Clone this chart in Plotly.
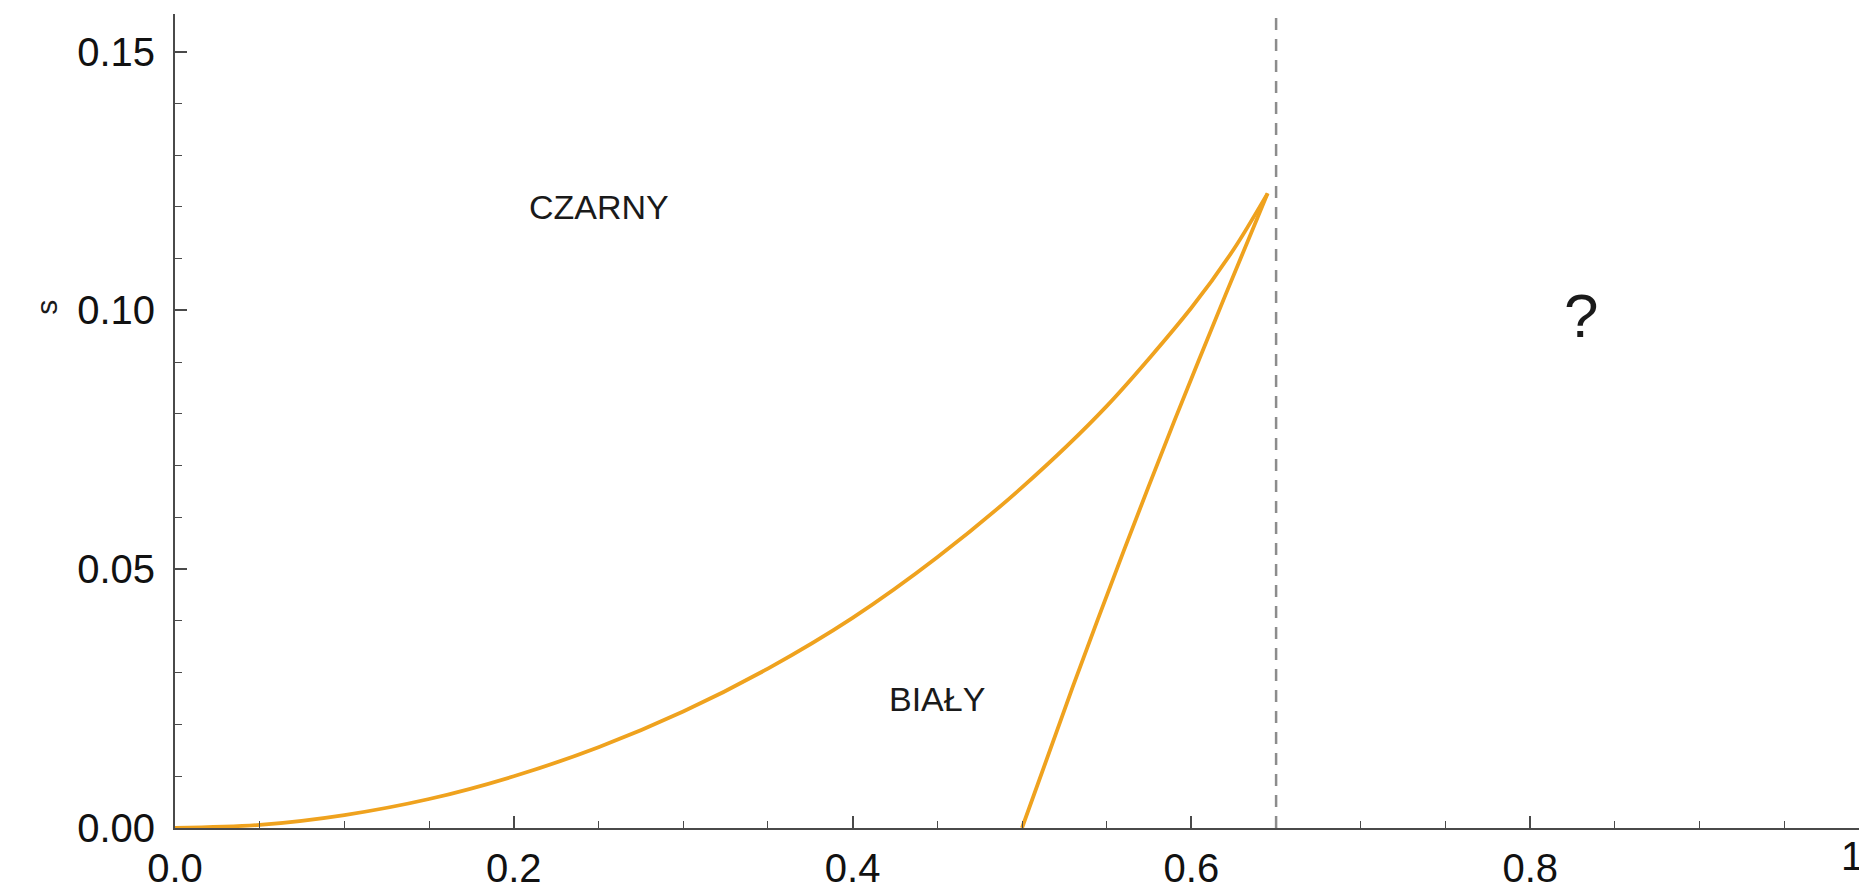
import plotly.graph_objects as go

# ---- data ----
curve1_x = [0.0, 0.05, 0.10, 0.15, 0.20, 0.25, 0.30, 0.35, 0.40, 0.45, 0.50, 0.55, 0.60, 0.625, 0.645]
curve1_y = [0.0, 0.0006, 0.0025, 0.0056, 0.0100, 0.0156, 0.0225, 0.0308, 0.0406, 0.0523, 0.0658, 0.0815, 0.1005, 0.1118, 0.1226]

curve2_x = [0.50, 0.53, 0.56, 0.59, 0.62, 0.645]
curve2_y = [0.0, 0.0273, 0.0535, 0.0787, 0.1029, 0.1226]

critical_x = 0.65

region_labels = ["CZARNY", "BIAŁY", "?"]
region_x = [0.25, 0.45, 0.83]
region_y = [0.12, 0.025, 0.099]
region_size = [34, 34, 62]

x_tickvals = [0.0, 0.2, 0.4, 0.6, 0.8]
x_ticktext = ["0.0", "0.2", "0.4", "0.6", "0.8"]
x_edge_tick = 1.0
x_edge_text = "1.0"
y_tickvals = [0.0, 0.05, 0.10, 0.15]
y_ticktext = ["0.00", "0.05", "0.10", "0.15"]
y_title = "s"

# ---- styling ----
ORANGE = "#EFA21E"
AXIS = "#4a4a4a"
TICKFONT = dict(family="Liberation Sans, Arial, sans-serif", size=40, color="#111111")
TEXTFONT = "Liberation Sans, Arial, sans-serif"

W, H = 1859, 890
ML, MT, MB = 175, 14, 52
plot_w = W - ML
plot_h = H - MT - MB
x_max = plot_w / 1694.0
y_max = plot_h / 5240.0

fig = go.Figure()
fig.add_trace(go.Scatter(x=curve1_x, y=curve1_y, mode="lines",
                         line=dict(color=ORANGE, width=3.8, shape="spline", smoothing=0.8),
                         showlegend=False, hoverinfo="skip"))
fig.add_trace(go.Scatter(x=curve2_x, y=curve2_y, mode="lines",
                         line=dict(color=ORANGE, width=3.8, shape="spline", smoothing=0.8),
                         showlegend=False, hoverinfo="skip"))

fig.add_vline(x=critical_x, line=dict(color="#8c8c8c", width=2.5, dash="12px,9px"))

for t, x, y, s in zip(region_labels, region_x, region_y, region_size):
    fig.add_annotation(x=x, y=y, xref="x", yref="y", text=t, showarrow=False,
                       font=dict(family=TEXTFONT, size=s, color="#1a1a1a"),
                       xanchor="center", yanchor="middle")

# tick label at x = 1, cut by the right edge (paper coords so it is not hidden)
fig.add_annotation(x=x_edge_tick / x_max, y=0, xref="paper", yref="paper", text=x_edge_text,
                   showarrow=False, font=TICKFONT, xanchor="center", yanchor="top", yshift=-4)

# y-axis title
fig.add_annotation(x=-(ML - 47) / plot_w, y=0.1005, xref="paper", yref="y", text=y_title,
                   showarrow=False, textangle=-90,
                   font=dict(family=TEXTFONT, size=30, color="#1a1a1a"),
                   xanchor="center", yanchor="middle")

fig.update_xaxes(range=[0, x_max], showline=True, linecolor=AXIS, linewidth=2,
                 ticks="inside", ticklen=12, tickwidth=1.5, tickcolor=AXIS,
                 tickmode="array", tickvals=x_tickvals, ticktext=x_ticktext,
                 minor=dict(tick0=0, dtick=0.05, ticks="inside", ticklen=7, tickwidth=1.2, tickcolor=AXIS),
                 showgrid=False, zeroline=False, tickfont=TICKFONT, ticklabelstandoff=4)
fig.update_yaxes(range=[0, y_max], showline=True, linecolor=AXIS, linewidth=2,
                 ticks="inside", ticklen=12, tickwidth=1.5, tickcolor=AXIS,
                 tickmode="array", tickvals=y_tickvals, ticktext=y_ticktext,
                 minor=dict(tick0=0, dtick=0.01, ticks="inside", ticklen=7, tickwidth=1.2, tickcolor=AXIS),
                 showgrid=False, zeroline=False, tickfont=TICKFONT, ticklabelstandoff=10)

fig.update_layout(width=W, height=H, margin=dict(l=ML, r=0, t=MT, b=MB, pad=0),
                  paper_bgcolor="white", plot_bgcolor="white", showlegend=False)

fig.write_html("out.html", config={"displayModeBar": False},
               post_script="document.body.style.margin='0';")
